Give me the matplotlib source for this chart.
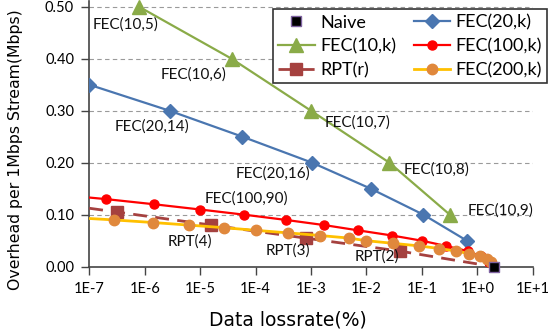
import matplotlib
matplotlib.use('Agg')
import matplotlib.pyplot as plt

plt.rcParams['font.family'] = ['Lato', 'DejaVu Sans']

# data: loss rate (%) vs overhead (Mbps)
naive_x = [2.0]
naive_y = [0.0]

fec10_x = [7.9e-7, 3.7e-5, 1.0e-3, 0.026, 0.32]
fec10_y = [0.50, 0.40, 0.30, 0.20, 0.10]

fec20_x = [1.0e-7, 2.8e-6, 5.8e-5, 1.05e-3, 0.012, 0.107, 0.65]
fec20_y = [0.35, 0.30, 0.25, 0.20, 0.15, 0.10, 0.05]

fec100_x = [1.0e-8, 2.0e-7, 1.5e-6, 1.0e-5, 6.3e-5, 3.5e-4, 1.74e-3, 7.0e-3,
            0.029, 0.10, 0.27, 0.68, 1.15, 1.6, 2.0]
fec100_y = [0.143, 0.13, 0.12, 0.11, 0.10, 0.09, 0.08, 0.07,
            0.06, 0.05, 0.04, 0.03, 0.02, 0.01, 0.0]

fec200_x = [2.0e-8, 2.75e-7, 1.4e-6, 6.3e-6, 2.7e-5, 1.0e-4, 3.9e-4, 1.45e-3,
            4.9e-3, 1.0e-2, 0.030, 0.089, 0.205, 0.42, 0.72, 1.12, 1.47, 1.78, 2.0]
fec200_y = [0.097, 0.09, 0.085, 0.08, 0.075, 0.07, 0.065, 0.06,
            0.055, 0.05, 0.045, 0.04, 0.035, 0.03, 0.025, 0.02, 0.015, 0.01, 0.0]

rpt_x = [6.4e-9, 3.2e-7, 1.6e-5, 8.0e-4, 0.04, 2.0]
rpt_y = [0.13, 0.105, 0.08, 0.055, 0.03, 0.0]

xtick_vals = [1e-7, 1e-6, 1e-5, 1e-4, 1e-3, 1e-2, 1e-1, 1e0, 1e1]
xtick_labels = ['1E-7', '1E-6', '1E-5', '1E-4', '1E-3', '1E-2', '1E-1', '1E+0', '1E+1']
ytick_vals = [0.0, 0.1, 0.2, 0.3, 0.4, 0.5]

fig = plt.figure(figsize=(5.57, 3.36), dpi=100)
ax = fig.add_axes([89.3 / 557, 1 - 266.7 / 336, 443.4 / 557, 266.2 / 336])

green = '#8AAB48'
blue = '#4A76B0'
red = '#FF0000'
brown = '#A5413F'
yellow = '#FFC000'
orange = '#E0883C'

ax.plot(fec20_x, fec20_y, '-', color=blue, lw=1.6, marker='D', ms=7,
        mfc=blue, mec=blue, label='FEC(20,k)', zorder=4)
ax.plot(fec10_x, fec10_y, '-', color=green, lw=1.6, marker='^', ms=10,
        mfc=green, mec=green, label='FEC(10,k)', zorder=4, clip_on=False)
ax.plot(rpt_x, rpt_y, '--', color=brown, lw=2, dashes=(5, 3), marker='s', ms=9,
        mfc=brown, mec=brown, label='RPT(r)', zorder=3, markevery=[1, 2, 3, 4])
ax.plot(fec100_x, fec100_y, '-', color=red, lw=1.6, marker='o', ms=6.5,
        mfc=red, mec=red, label='FEC(100,k)', zorder=4, markevery=list(range(1, 14)))
ax.plot(fec200_x, fec200_y, '-', color=yellow, lw=2, marker='o', ms=7.5,
        mfc=orange, mec=orange, label='FEC(200,k)', zorder=5, markevery=list(range(1, 18)))
ax.plot(naive_x, naive_y, 's', ms=7, mfc='black', mec='#7F63A1', mew=1,
        label='Naive', zorder=8, clip_on=False)

ax.set_xscale('log')
ax.set_xlim(1e-7, 10)
ax.set_ylim(0, 0.512)
ax.set_xticks(xtick_vals)
ax.set_xticklabels(xtick_labels)
ax.minorticks_off()
ax.set_yticks(ytick_vals)
ax.set_yticklabels(['%.2f' % v for v in ytick_vals])
ax.tick_params(axis='both', labelsize=10.5, length=6, width=1, color='#444444',
               direction='out', pad=5)

for v in ytick_vals[1:]:
    ax.axhline(v, color='#9A9A9A', lw=0.8, ls=(0, (4, 3)), zorder=1)

for s in ['top', 'right']:
    ax.spines[s].set_visible(False)
for s in ['left', 'bottom']:
    ax.spines[s].set_color('#444444')
    ax.spines[s].set_linewidth(1.2)

ax.set_xlabel('Data lossrate(%)', fontsize=13.5, family='DejaVu Sans')
ax.xaxis.set_label_coords(0.447, -0.165)
ax.set_ylabel('Overhead per 1Mbps Stream(Mbps)', fontsize=11.3, family='DejaVu Sans')
ax.yaxis.set_label_coords(-0.15, 0.44)

labels = [
    ('FEC(10,5)', 1.15e-7, 0.465),
    ('FEC(10,6)', 1.95e-6, 0.369),
    ('FEC(20,14)', 2.9e-7, 0.269),
    ('FEC(20,16)', 4.3e-5, 0.180),
    ('FEC(10,7)', 1.79e-3, 0.277),
    ('FEC(10,8)', 0.046, 0.187),
    ('FEC(10,9)', 0.66, 0.108),
    ('FEC(100,90)', 1.2e-5, 0.1315),
    ('RPT(4)', 2.55e-6, 0.048),
    ('RPT(3)', 1.5e-4, 0.031),
    ('RPT(2)', 6.2e-3, 0.019),
]
for txt, x, y in labels:
    ax.text(x, y, txt, fontsize=11, ha='left', va='center', color='#111111', zorder=6)

handles, labs = ax.get_legend_handles_labels()
order = ['Naive', 'FEC(10,k)', 'RPT(r)', 'FEC(20,k)', 'FEC(100,k)', 'FEC(200,k)']
hmap = dict(zip(labs, handles))
leg = ax.legend([hmap[k] for k in order], order, ncol=2, loc='upper left',
                bbox_to_anchor=(273 / 557, 1 - 9 / 336), bbox_transform=fig.transFigure,
                fontsize=13, frameon=True, fancybox=False, edgecolor='#333333',
                framealpha=1, borderpad=0.3, labelspacing=0.42, handlelength=2.0,
                handletextpad=0.3, columnspacing=1.0, borderaxespad=0)
leg.get_frame().set_linewidth(1.2)
leg.set_zorder(10)

fig.savefig('out.png', dpi=100, facecolor='white')
